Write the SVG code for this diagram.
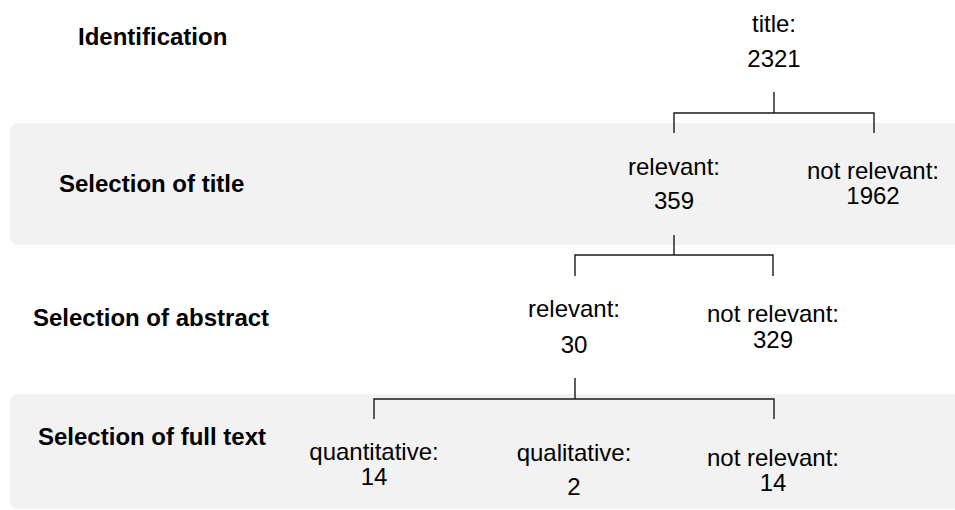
<svg xmlns="http://www.w3.org/2000/svg" width="955" height="510" viewBox="0 0 955 510">
<style>
.band{fill:#f2f2f2;}
.lbl{font-family:"Liberation Sans",Arial,sans-serif;font-weight:bold;font-size:24px;fill:#000;}
.t{font-family:"Liberation Sans",Arial,sans-serif;font-size:24px;fill:#000;text-anchor:middle;}
.c{fill:none;stroke:#1a1a1a;stroke-width:1.4;}
</style>
<rect width="955" height="510" fill="#fff"/>
<g id="bands">
<rect class="band" x="10" y="123" width="960" height="122" rx="8"/>
<rect class="band" x="10" y="394" width="960" height="115" rx="8"/>
</g>
<g id="stage-labels">
<text class="lbl" x="78" y="45">Identification</text>
<text class="lbl" x="59" y="192">Selection of title</text>
<text class="lbl" x="33" y="326">Selection of abstract</text>
<text class="lbl" x="38" y="445">Selection of full text</text>
</g>
<g id="connectors">
<path class="c" d="M774 92V113M674 133V113H874V133"/>
<path class="c" d="M674 235V255M575 276V255H773V276"/>
<path class="c" d="M575 378V399M374 419V399H774V419"/>
</g>
<g id="n-title"><text class="t" x="774" y="32">title:</text><text class="t" x="774" y="67">2321</text></g>
<g id="n-rel1"><text class="t" x="674" y="175">relevant:</text><text class="t" x="674" y="209">359</text></g>
<g id="n-notrel1"><text class="t" x="873" y="179">not relevant:</text><text class="t" x="873" y="204">1962</text></g>
<g id="n-rel2"><text class="t" x="574" y="317">relevant:</text><text class="t" x="574" y="353">30</text></g>
<g id="n-notrel2"><text class="t" x="773" y="322">not relevant:</text><text class="t" x="773" y="348">329</text></g>
<g id="n-quant"><text class="t" x="374" y="460">quantitative:</text><text class="t" x="374" y="485">14</text></g>
<g id="n-qual"><text class="t" x="574" y="461">qualitative:</text><text class="t" x="574" y="495">2</text></g>
<g id="n-notrel3"><text class="t" x="773" y="466">not relevant:</text><text class="t" x="773" y="491">14</text></g>
</svg>
